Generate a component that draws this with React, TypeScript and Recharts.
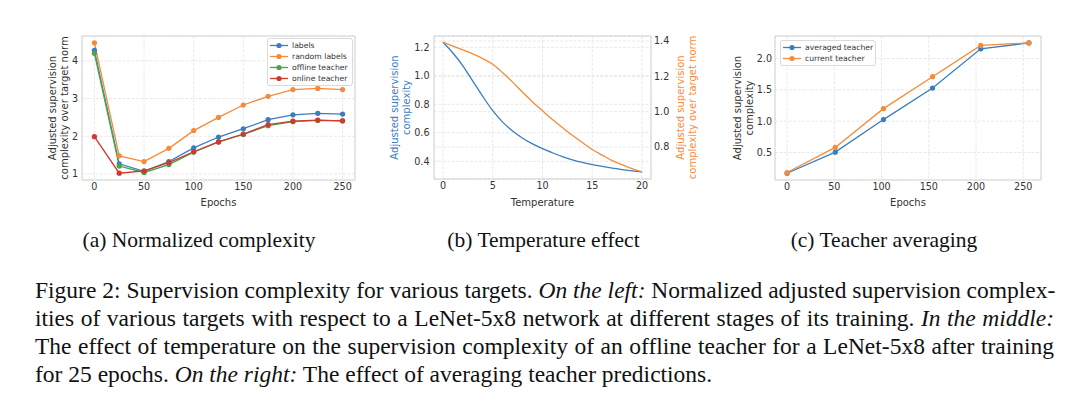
import {
  LineChart,
  Line,
  XAxis,
  YAxis,
  CartesianGrid,
  Legend,
  Label,
  ReferenceArea,
} from "recharts";

// (a) normalized complexity
const epochsA = [0, 25, 50, 75, 100, 125, 150, 175, 200, 225, 250];
const labelsVals = [4.28, 1.27, 1.07, 1.33, 1.69, 1.98, 2.2, 2.44, 2.57, 2.61, 2.59];
const randomLabelsVals = [4.48, 1.48, 1.33, 1.68, 2.15, 2.5, 2.83, 3.06, 3.24, 3.27, 3.24];
const offlineTeacherVals = [4.2, 1.21, 1.04, 1.25, 1.58, 1.85, 2.05, 2.28, 2.39, 2.42, 2.41];
const onlineTeacherVals = [1.99, 1.02, 1.08, 1.3, 1.59, 1.85, 2.06, 2.31, 2.4, 2.43, 2.41];
const seriesNamesA = ["labels", "random labels", "offline teacher", "online teacher"];
const ticksA = [1, 2, 3, 4];
const epochTicks = [0, 50, 100, 150, 200, 250];

// (b) temperature effect
const temperatures = [0, 1, 2, 3, 4, 5, 6, 7, 8, 9, 10, 11, 12, 13, 14, 15, 16, 17, 18, 19, 20];
const complexityVals = [
  1.235, 1.16, 1.07, 0.962, 0.855, 0.755, 0.675, 0.612, 0.562, 0.522, 0.489,
  0.46, 0.433, 0.411, 0.392, 0.377, 0.364, 0.352, 0.342, 0.333, 0.326,
];
const normComplexityVals = [
  1.393, 1.371, 1.349, 1.327, 1.3, 1.268, 1.22, 1.167, 1.11, 1.055, 1.005,
  0.955, 0.91, 0.866, 0.825, 0.786, 0.754, 0.723, 0.7, 0.678, 0.659,
];
const tempTicks = [0, 5, 10, 15, 20];
const leftTicksB = [0.4, 0.6, 0.8, 1.0, 1.2];
const rightTicksB = [0.8, 1.0, 1.2, 1.4];

// (c) teacher averaging
const epochsC = [0, 51, 102, 154, 205, 256];
const averagedVals = [0.168, 0.505, 1.025, 1.529, 2.155, 2.25];
const currentVals = [0.18, 0.58, 1.2, 1.71, 2.21, 2.25];
const seriesNamesC = ["averaged teacher", "current teacher"];
const ticksC = [0.5, 1.0, 1.5, 2.0];

const blue = "#3b7dbd";
const orange = "#f58b3a";
const green = "#45a548";
const red = "#cd3a30";
const gridColor = "#e8e8e8";
const frameColor = "#d4d4d4";
const inkColor = "#333";
const sans = "DejaVu Sans";

const dataA = epochsA.map((e, i) => ({
  epoch: e,
  labels: labelsVals[i],
  random: randomLabelsVals[i],
  offline: offlineTeacherVals[i],
  online: onlineTeacherVals[i],
}));
const dataB = temperatures.map((t, i) => ({
  t,
  sc: complexityVals[i],
  norm: normComplexityVals[i],
}));
const dataC = epochsC.map((e, i) => ({ epoch: e, averaged: averagedVals[i], current: currentVals[i] }));

const tickStyle = { fontSize: 9.6, fill: inkColor, fontFamily: sans };
const fmt1 = (v: number) => v.toFixed(1);

function yTitle(lines: string[], xs: number[], color: string) {
  return (props: any) => {
    const vb = props.viewBox || {};
    const cy = vb.y + vb.height / 2;
    return (
      <g>
        {lines.map((txt, i) => (
          <text
            key={i}
            x={xs[i]}
            y={cy}
            transform={`rotate(-90 ${xs[i]} ${cy})`}
            textAnchor="middle"
            dominantBaseline="central"
            fill={color}
            fontSize={10}
            fontFamily={sans}
          >
            {txt}
          </text>
        ))}
      </g>
    );
  };
}

function xTitle(txt: string, y: number) {
  return (props: any) => {
    const vb = props.viewBox || {};
    return (
      <text
        x={vb.x + vb.width / 2}
        y={y}
        textAnchor="middle"
        dominantBaseline="central"
        fill={inkColor}
        fontSize={10}
        fontFamily={sans}
      >
        {txt}
      </text>
    );
  };
}

function LegendBox({ payload, width, order }: any) {
  const items = [...(payload || [])].sort((a: any, b: any) => order.indexOf(a.value) - order.indexOf(b.value));
  return (
    <div
      style={{
        width,
        boxSizing: "border-box",
        border: "1px solid #dadada",
        borderRadius: 3,
        background: "rgba(255,255,255,0.85)",
        padding: "1px 0",
        fontFamily: sans,
        fontSize: 7.7,
        color: inkColor,
      }}
    >
      {items.map((p: any) => (
        <div key={p.value} style={{ display: "flex", alignItems: "center", height: 11 }}>
          <svg width={18} height={11} style={{ marginLeft: 2, marginRight: 4, flex: "none" }}>
            <line x1={0} x2={18} y1={5.5} y2={5.5} stroke={p.color} strokeWidth={1.3} />
            <circle cx={9} cy={5.5} r={2.6} fill={p.color} />
          </svg>
          <span style={{ whiteSpace: "nowrap" }}>{p.value}</span>
        </div>
      ))}
    </div>
  );
}

const dotOf = (c: string) => ({ r: 2.6, fill: c, stroke: c, strokeWidth: 0 });

function ChartA() {
  return (
    <LineChart width={370} height={215} data={dataA} margin={{ top: 36, right: 15, left: 0, bottom: 0 }}>
      <CartesianGrid stroke={gridColor} strokeDasharray="3 1.5" />
      <XAxis
        dataKey="epoch"
        type="number"
        domain={[-12.5, 262.5]}
        ticks={epochTicks}
        height={35}
        axisLine={false}
        tickLine={false}
        tickSize={0}
        tickMargin={3}
        tick={tickStyle}
        allowDataOverflow
      >
        <Label content={xTitle("Epochs", 202)} />
      </XAxis>
      <YAxis
        type="number"
        domain={[0.84, 4.66]}
        ticks={ticksA}
        width={82}
        axisLine={false}
        tickLine={false}
        tickSize={0}
        tickMargin={4}
        tick={tickStyle}
        allowDataOverflow
      >
        <Label content={yTitle(["Adjusted supervision", "complexity over target norm"], [52, 64], inkColor)} />
      </YAxis>
      <ReferenceArea x1={-12.5} x2={262.5} y1={0.84} y2={4.66} fill="none" stroke={frameColor} ifOverflow="visible" />
      <Line dataKey="labels" name={seriesNamesA[0]} stroke={blue} strokeWidth={1.3} dot={dotOf(blue)} isAnimationActive={false} />
      <Line dataKey="random" name={seriesNamesA[1]} stroke={orange} strokeWidth={1.3} dot={dotOf(orange)} isAnimationActive={false} />
      <Line dataKey="offline" name={seriesNamesA[2]} stroke={green} strokeWidth={1.3} dot={dotOf(green)} isAnimationActive={false} />
      <Line dataKey="online" name={seriesNamesA[3]} stroke={red} strokeWidth={1.3} dot={dotOf(red)} isAnimationActive={false} />
      <Legend
        layout="vertical"
        align="center"
        verticalAlign="middle"
        wrapperStyle={{ left: 267, top: 38, width: 86 }}
        content={(p: any) => <LegendBox payload={p.payload} width={86} order={seriesNamesA} />}
      />
    </LineChart>
  );
}

function ChartB() {
  return (
    <LineChart width={345} height={215} data={dataB} margin={{ top: 36, right: 0, left: 0, bottom: 0 }}>
      <CartesianGrid yAxisId="left" stroke={gridColor} strokeDasharray="3 1.5" />
      <CartesianGrid yAxisId="right" vertical={false} stroke={gridColor} strokeDasharray="3 1.5" />
      <XAxis
        dataKey="t"
        type="number"
        domain={[-0.9, 20.9]}
        ticks={tempTicks}
        height={36}
        axisLine={false}
        tickLine={false}
        tickSize={0}
        tickMargin={3}
        tick={tickStyle}
        allowDataOverflow
      >
        <Label content={xTitle("Temperature", 202)} />
      </XAxis>
      <YAxis
        yAxisId="left"
        type="number"
        domain={[0.276, 1.279]}
        ticks={leftTicksB}
        tickFormatter={fmt1}
        width={64}
        axisLine={false}
        tickLine={false}
        tickSize={0}
        tickMargin={4.5}
        tick={tickStyle}
        allowDataOverflow
      >
        <Label content={yTitle(["Adjusted supervision", "complexity"], [24, 36], blue)} />
      </YAxis>
      <YAxis
        yAxisId="right"
        orientation="right"
        type="number"
        domain={[0.619, 1.428]}
        ticks={rightTicksB}
        tickFormatter={fmt1}
        width={64}
        axisLine={false}
        tickLine={false}
        tickSize={0}
        tickMargin={3}
        tick={tickStyle}
        allowDataOverflow
      >
        <Label content={yTitle(["Adjusted supervision", "complexity over target norm"], [310, 322], orange)} />
      </YAxis>
      <ReferenceArea yAxisId="left" x1={-0.9} x2={20.9} y1={0.276} y2={1.279} fill="none" stroke={frameColor} ifOverflow="visible" />
      <Line yAxisId="left" type="monotone" dataKey="sc" stroke={blue} strokeWidth={1.3} dot={false} isAnimationActive={false} />
      <Line yAxisId="right" type="monotone" dataKey="norm" stroke={orange} strokeWidth={1.3} dot={false} isAnimationActive={false} />
    </LineChart>
  );
}

function ChartC() {
  return (
    <LineChart width={365} height={215} data={dataC} margin={{ top: 36, right: 39, left: 0, bottom: 0 }}>
      <CartesianGrid stroke={gridColor} strokeDasharray="3 1.5" />
      <XAxis
        dataKey="epoch"
        type="number"
        domain={[-12.8, 268.8]}
        ticks={epochTicks}
        height={35}
        axisLine={false}
        tickLine={false}
        tickSize={0}
        tickMargin={3}
        tick={tickStyle}
        allowDataOverflow
      >
        <Label content={xTitle("Epochs", 202)} />
      </XAxis>
      <YAxis
        type="number"
        domain={[0.06, 2.36]}
        ticks={ticksC}
        tickFormatter={fmt1}
        width={60}
        axisLine={false}
        tickLine={false}
        tickSize={0}
        tickMargin={3}
        tick={tickStyle}
        allowDataOverflow
      >
        <Label content={yTitle(["Adjusted supervision", "complexity"], [22, 34], inkColor)} />
      </YAxis>
      <ReferenceArea x1={-12.8} x2={268.8} y1={0.06} y2={2.36} fill="none" stroke={frameColor} ifOverflow="visible" />
      <Line dataKey="averaged" name={seriesNamesC[0]} stroke={blue} strokeWidth={1.3} dot={dotOf(blue)} isAnimationActive={false} />
      <Line dataKey="current" name={seriesNamesC[1]} stroke={orange} strokeWidth={1.3} dot={dotOf(orange)} isAnimationActive={false} />
      <Legend
        layout="vertical"
        align="center"
        verticalAlign="middle"
        wrapperStyle={{ left: 65, top: 40, width: 96 }}
        content={(p: any) => <LegendBox payload={p.payload} width={96} order={seriesNamesC} />}
      />
    </LineChart>
  );
}

const serif = "'Liberation Serif', 'Times New Roman', serif";

const subCaption = (left: number, txt: string) => (
  <div
    style={{
      position: "absolute",
      left: left - 160,
      width: 320,
      top: 229.5,
      textAlign: "center",
      fontFamily: serif,
      fontSize: 21.5,
      lineHeight: "20px",
      color: "#111",
      whiteSpace: "nowrap",
    }}
  >
    {txt}
  </div>
);

const lineStyle = (last: boolean) => ({
  height: 28,
  textAlign: "justify" as const,
  textAlignLast: (last ? "left" : "justify") as any,
  whiteSpace: "nowrap" as const,
});

export default function App() {
  return (
    <div style={{ position: "absolute", left: 0, top: 0, width: 1080, height: 407, background: "#fff", overflow: "hidden" }}>
      <div style={{ position: "absolute", left: 0, top: 0 }}>
        <ChartA />
      </div>
      <div style={{ position: "absolute", left: 370, top: 0 }}>
        <ChartB />
      </div>
      <div style={{ position: "absolute", left: 715, top: 0 }}>
        <ChartC />
      </div>
      {subCaption(199, "(a) Normalized complexity")}
      {subCaption(543.5, "(b) Temperature effect")}
      {subCaption(884, "(c) Teacher averaging")}
      <div
        style={{
          position: "absolute",
          left: 35,
          width: 1019,
          top: 275.5,
          fontFamily: serif,
          fontSize: 23.5,
          lineHeight: "28px",
          color: "#111",
        }}
      >
        <div style={lineStyle(false)}>
          Figure 2: Supervision complexity for various targets. <i>On the left:</i> Normalized adjusted supervision complex-
        </div>
        <div style={lineStyle(false)}>
          ities of various targets with respect to a LeNet-5x8 network at different stages of its training. <i>In the middle:</i>
        </div>
        <div style={lineStyle(false)}>
          The effect of temperature on the supervision complexity of an offline teacher for a LeNet-5x8 after training
        </div>
        <div style={lineStyle(true)}>
          for 25 epochs. <i>On the right:</i> The effect of averaging teacher predictions.
        </div>
      </div>
    </div>
  );
}
